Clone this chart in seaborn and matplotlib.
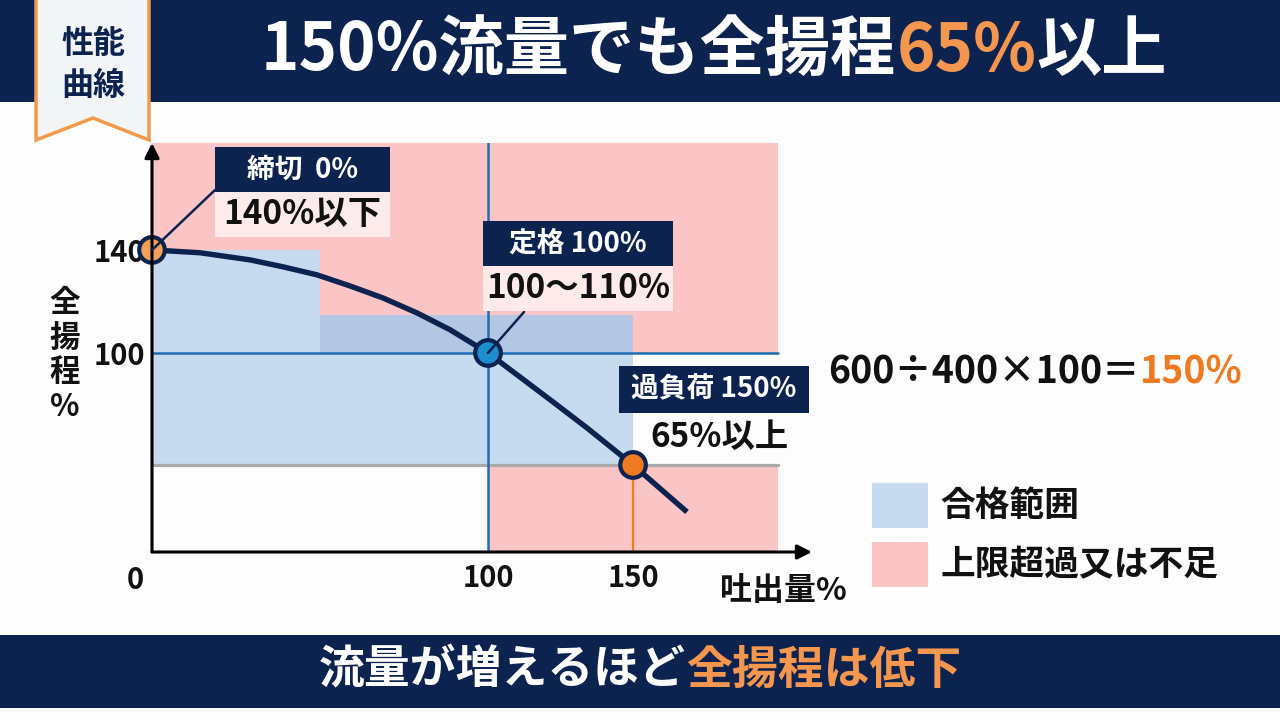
import numpy as np
import matplotlib
matplotlib.use('Agg')
import matplotlib.pyplot as plt
from matplotlib.patches import Polygon, Rectangle
from matplotlib.lines import Line2D
import seaborn as sns

# DATA ----------------------------------------------------------
# pump curve (flow %, total head %)
flow = [0, 14.3, 29.2, 39.0, 49.1, 58.9, 68.8, 78.9, 88.7, 100,
        111.0, 122.4, 134.1, 150, 168.6]
head = [140, 138.7, 135.4, 132.2, 128.5, 123.4, 117.8, 110.9, 106.1, 100,
        92.5, 84.7, 76.6, 65, 29.9]

# check points: shut-off, rated, overload
pt_flow = [0, 100, 150]
pt_head = [140, 100, 65]
pt_names = ['締切', '定格', '過負荷']

# zones (x0, x1, y0, y1)
ng_zones = [(0, 200, 100, 180), (100, 200, 0, 65)]
ok_zones = [(0, 50, 65, 140), (50, 150, 65, 110)]
ok_overlap = [(50, 150, 100, 110)]

x_ticks = [100, 150]
y_ticks = [100, 140]

title_segs = [('150%流量でも全揚程', 'white'), ('65%', '#f5964f'), ('以上', 'white')]
bottom_segs = [('流量が増えるほど', 'white'), ('全揚程は低下', '#f5964f')]
formula_segs = [('600÷400×100＝', '#111111'), ('150%', '#ee7a22')]
legend_labels = ['合格範囲', '上限超過又は不足']

# COLOURS -------------------------------------------------------
navy = '#0c2350'
pink = '#fcc5c5'
blue_lt = '#c6dbef'
blue_dk = '#b3c7e5'
line_blue = '#1f6db3'
orange = '#ee7a22'
orange_lt = '#f2a05a'

sns.set_theme(style='white')
plt.rcParams['font.family'] = ['Noto Sans CJK JP', 'DejaVu Sans']

fig = plt.figure(figsize=(12.8, 7.2), dpi=100)
fig.patch.set_facecolor('#fdfdfd')
W, H = 1280, 720


def px(x, y):
    return x / W, 1 - y / H


def frect(x0, y0, x1, y1, color, **kw):
    fig.add_artist(Rectangle(px(x0, y1), (x1 - x0) / W, (y1 - y0) / H,
                             transform=fig.transFigure, facecolor=color,
                             edgecolor='none', **kw))


def segments(segs, x, y, size, ha='center'):
    r = fig.canvas.get_renderer()
    tt, ww = [], []
    for s, c in segs:
        t = fig.text(0, 0, s, color=c, fontsize=size, fontweight='bold',
                     va='center', ha='left')
        tt.append(t)
        ww.append(t.get_window_extent(r).width)
    start = x - sum(ww) / 2 if ha == 'center' else x
    for t, w in zip(tt, ww):
        t.set_position(px(start, y))
        start += w


# banners
frect(0, 0, 1280, 102, navy)
frect(0, 635, 1280, 708, navy)

tag = Polygon([px(36, -5), px(149, -5), px(149, 140), px(93, 118), px(36, 140)],
              closed=True, transform=fig.transFigure, facecolor='#f3f4f6',
              edgecolor='#f2994a', linewidth=2.5, zorder=5)
fig.add_artist(tag)
fig.text(*px(93, 65), '性能\n曲線', ha='center', va='center', fontsize=23,
         fontweight='bold', color=navy, linespacing=1.38, zorder=6)

segments(title_segs, 714, 51, 47)
segments(bottom_segs, 640, 671, 33)

# CHART ---------------------------------------------------------
ax = fig.add_axes([152 / W, 1 - 552 / H, 660 / W, 409 / H])
ax.set_facecolor('none')

xk = np.array([-50, 0, 100, 150, 300])
xd = np.array([-168, 0, 336, 481, 916])
yk = np.array([-50, 0, 65, 100, 110, 140, 250])
yd = np.array([-67, 0, 87, 199, 237, 302, 596])
ax.set_xscale('function', functions=(lambda v: np.interp(v, xk, xd),
                                     lambda v: np.interp(v, xd, xk)))
ax.set_yscale('function', functions=(lambda v: np.interp(v, yk, yd),
                                     lambda v: np.interp(v, yd, yk)))
ax.set_xlim(0, 211.7)
ax.set_ylim(0, 180)

for x0, x1, y0, y1 in ng_zones:
    ax.fill_between([x0, x1], y0, y1, color=pink, lw=0, zorder=0)
for x0, x1, y0, y1 in ok_zones:
    ax.fill_between([x0, x1], y0, y1, color=blue_lt, lw=0, zorder=0.5)
for x0, x1, y0, y1 in ok_overlap:
    ax.fill_between([x0, x1], y0, y1, color=blue_dk, lw=0, zorder=0.6)

ax.plot([0, 200], [pt_head[2], pt_head[2]], color='#aaaaaa', lw=2.3, zorder=1)
ax.plot([0, 200], [pt_head[1], pt_head[1]], color=line_blue, lw=1.8, zorder=1)
ax.plot([pt_flow[1], pt_flow[1]], [0, 180], color=line_blue, lw=1.8, zorder=1)
ax.plot([pt_flow[2], pt_flow[2]], [0, pt_head[2]], color=orange, lw=1.6, zorder=1)

sns.lineplot(x=flow, y=head, ax=ax, color=navy, lw=3.9, sort=False,
             zorder=2, clip_on=False, solid_capstyle='butt')
sns.scatterplot(x=pt_flow, y=pt_head, ax=ax, hue=pt_names,
                palette=[orange_lt, '#1b8fd0', orange], s=340,
                edgecolor=navy, linewidth=3, zorder=3, clip_on=False,
                legend=False)

for s in ax.spines.values():
    s.set_visible(False)
ax.annotate('', xy=(0, 1), xytext=(0, 0), xycoords='axes fraction',
            arrowprops=dict(arrowstyle='-|>', lw=2.2, color='black',
                            mutation_scale=22, shrinkA=0, shrinkB=0))
ax.annotate('', xy=(1, 0), xytext=(0, 0), xycoords='axes fraction',
            arrowprops=dict(arrowstyle='-|>', lw=2.2, color='black',
                            mutation_scale=22, shrinkA=0, shrinkB=0))

ax.set_xticks(x_ticks)
ax.set_yticks(y_ticks)
ax.tick_params(length=0, labelsize=21, pad=8)
ax.tick_params(axis='y', pad=5)
for lab in ax.get_xticklabels() + ax.get_yticklabels():
    lab.set_fontweight('bold')
    lab.set_color('#111111')
ax.set_xlabel('')
ax.set_ylabel('')
fig.text(*px(135, 580), '0', ha='center', va='center', fontsize=21,
         fontweight='bold', color='#111111')
fig.text(*px(783, 591), '吐出量%', ha='center', va='center', fontsize=23,
         fontweight='bold', color='#111111')
fig.text(*px(65, 355), '全\n揚\n程\n%', ha='center', va='center', fontsize=22,
         fontweight='bold', color='#111111', linespacing=1.12)

# callouts
callouts = [
    ((215, 147, 390, 192), '締切  0%', '140%以下', True),
    ((483, 221, 673, 266), '定格 100%', '100〜110%', True),
    ((619, 366, 809, 413), '過負荷 150%', '65%以上', False),
]
for (x0, y0, x1, y1), top, bot, boxed in callouts:
    frect(x0, y0, x1, y1, navy, zorder=4)
    cx = (x0 + x1) / 2
    fig.text(*px(cx, (y0 + y1) / 2), top, ha='center', va='center',
             fontsize=20, fontweight='bold', color='white', zorder=5)
    h = y1 - y0
    if boxed:
        frect(x0, y1, x1, y1 + h, '#fdeaea', zorder=4)
        fig.text(*px(cx, y1 + h / 2), bot, ha='center', va='center',
                 fontsize=24, fontweight='bold', color='#111111', zorder=5)
    else:
        fig.text(*px(cx + 6, y1 + 24), bot, ha='center', va='center',
                 fontsize=24, fontweight='bold', color='#111111', zorder=5)

for (xa, ya), (xb, yb) in [((152, 250), (215, 190)), ((488, 353), (524, 312))]:
    fig.add_artist(Line2D([xa / W, xb / W], [1 - ya / H, 1 - yb / H],
                          transform=fig.transFigure, color=navy, lw=1.8,
                          zorder=2.5))

segments(formula_segs, 828, 372, 27, ha='left')

# legend
for (y0, y1), c, lab in zip([(483, 528), (542, 587)], [blue_lt, pink], legend_labels):
    frect(872, y0, 928, y1, c)
    fig.text(*px(940, (y0 + y1) / 2), lab, ha='left', va='center',
             fontsize=25, fontweight='bold', color='#111111')

fig.savefig('out.png', dpi=100)
